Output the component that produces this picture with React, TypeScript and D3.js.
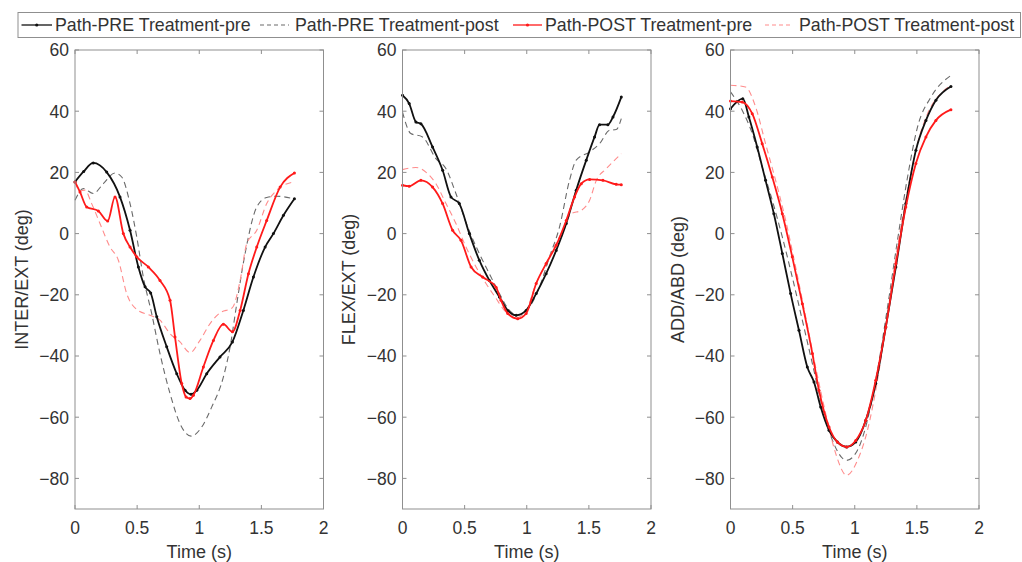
import React from "react";
import * as d3 from "d3";

// ---------- DATA ----------
const seriesNames = [
  "Path-PRE Treatment-pre",
  "Path-PRE Treatment-post",
  "Path-POST Treatment-pre",
  "Path-POST Treatment-post",
];
const panelLabels = ["INTER/EXT (deg)", "FLEX/EXT (deg)", "ADD/ABD (deg)"];
const xLabel = "Time (s)";
const xTicks = [0, 0.5, 1, 1.5, 2];
const yTicks = [-80, -60, -40, -20, 0, 20, 40, 60];

// Panel 1: INTER/EXT  [time s, deg]
const interPrePre: [number, number][] = [[0,16.9],[0.07,20.3],[0.147,23.1],[0.255,20.1],[0.362,12],[0.443,1.1],[0.51,-10.9],[0.564,-17.4],[0.609,-19.4],[0.658,-27.2],[0.738,-37],[0.819,-45.8],[0.886,-51.2],[0.934,-52.5],[0.98,-51.2],[1.06,-45.8],[1.167,-40.3],[1.267,-35.4],[1.355,-25.1],[1.436,-14.2],[1.53,-4.4],[1.597,0],[1.678,6],[1.766,11.4]];
const interPrePost: [number, number][] = [[0,10.9],[0.067,14.7],[0.147,13.1],[0.228,16.3],[0.322,19.8],[0.376,18.5],[0.443,9.8],[0.497,-1.1],[0.55,-14.2],[0.617,-26.1],[0.684,-39.2],[0.765,-52.3],[0.845,-62.1],[0.934,-66.2],[1.02,-63.2],[1.1,-56.7],[1.194,-46.9],[1.248,-37.1],[1.302,-22.9],[1.369,-6.5],[1.463,8.7],[1.543,11.8],[1.624,12.2],[1.758,11.4]];
const interPostPre: [number, number][] = [[0,16.9],[0.04,13.6],[0.094,8.7],[0.188,7.4],[0.263,4.1],[0.322,12],[0.389,0],[0.443,-4.4],[0.497,-7.6],[0.59,-10.9],[0.684,-15.3],[0.765,-21.8],[0.805,-33.8],[0.859,-49],[0.894,-53.4],[0.926,-53.9],[0.953,-52.8],[1.033,-43.6],[1.114,-34.9],[1.194,-29.6],[1.267,-32.1],[1.329,-25.1],[1.396,-13.1],[1.463,-4.4],[1.543,4.3],[1.651,15.2],[1.766,19.8]];
const interPostPost: [number, number][] = [[0,16.9],[0.04,14],[0.08,14.2],[0.134,9.8],[0.201,3.3],[0.282,-4.4],[0.349,-8.7],[0.416,-19.6],[0.497,-24.8],[0.604,-26.7],[0.684,-28.3],[0.765,-32.7],[0.845,-35.4],[0.926,-38.9],[1.006,-34.9],[1.087,-29.4],[1.167,-25.9],[1.267,-24.2],[1.329,-15.3],[1.382,-3.3],[1.463,1.1],[1.543,9.8],[1.624,14.2],[1.758,16.9]];

// Panel 2: FLEX/EXT
const flexPrePre: [number, number][] = [[0,45.2],[0.054,42.5],[0.108,36.5],[0.148,35.9],[0.242,28.3],[0.323,20.7],[0.39,12],[0.457,9.8],[0.538,0],[0.618,-8.7],[0.699,-15.3],[0.78,-20.7],[0.847,-25.1],[0.915,-26.7],[0.995,-25.1],[1.076,-19.6],[1.156,-13.1],[1.237,-5.5],[1.318,3.3],[1.398,14.2],[1.479,24],[1.546,31.6],[1.586,35.6],[1.653,35.6],[1.694,38.1],[1.761,44.6]];
const flexPrePost: [number, number][] = [[0,39.7],[0.067,32.7],[0.161,31.6],[0.269,24.5],[0.35,21.2],[0.43,13.1],[0.524,2.2],[0.618,-6.5],[0.699,-13.1],[0.78,-19.6],[0.86,-25.1],[0.927,-26.7],[1.022,-24],[1.102,-17.5],[1.183,-7.6],[1.264,2.2],[1.344,17.4],[1.398,24],[1.506,26.7],[1.586,29.4],[1.667,33.8],[1.72,34],[1.761,37.6]];
const flexPostPre: [number, number][] = [[0,15.8],[0.054,15.5],[0.148,17.4],[0.242,15.2],[0.323,9.8],[0.403,1.1],[0.471,-2.2],[0.552,-10.9],[0.645,-14.2],[0.753,-17.5],[0.793,-21.8],[0.847,-26.1],[0.927,-27.8],[0.995,-26.1],[1.076,-16.3],[1.156,-9.8],[1.237,-3.8],[1.318,4.3],[1.385,12],[1.439,16.3],[1.506,17.7],[1.613,17.4],[1.72,16.1],[1.761,16]];
const flexPostPost: [number, number][] = [[0,20.9],[0.108,21.6],[0.188,20.1],[0.269,16.3],[0.35,9.8],[0.43,3.3],[0.511,-4.4],[0.592,-10.9],[0.672,-16.3],[0.753,-21.2],[0.82,-25.1],[0.92,-27.5],[0.995,-25.1],[1.076,-16.3],[1.183,-7.6],[1.29,1.1],[1.358,6.5],[1.439,7.6],[1.506,10.9],[1.56,17.4],[1.64,21.2],[1.761,26.1]];

// Panel 3: ADD/ABD
const addPrePre: [number, number][] = [[0,40.8],[0.099,44.1],[0.148,38.1],[0.215,28.3],[0.282,17.4],[0.349,6.5],[0.417,-6.5],[0.484,-19.6],[0.551,-31.6],[0.618,-43.6],[0.672,-48.5],[0.726,-56.7],[0.793,-64.3],[0.86,-68.1],[0.935,-69.7],[1.008,-68.1],[1.089,-61],[1.169,-49],[1.25,-30.5],[1.331,-10.9],[1.411,9.8],[1.492,27.2],[1.573,37],[1.653,43.6],[1.774,48.1]];
const addPrePost: [number, number][] = [[0,46.3],[0.094,40.3],[0.175,32.7],[0.255,21.8],[0.336,10.9],[0.417,-1.1],[0.497,-14.2],[0.578,-28.3],[0.659,-42.5],[0.739,-56.7],[0.82,-67.5],[0.935,-74.1],[1.022,-70.8],[1.102,-61],[1.183,-44.7],[1.264,-24],[1.344,-2.2],[1.425,18.5],[1.505,34.8],[1.613,44.6],[1.774,51.7]];
const addPostPre: [number, number][] = [[0,43.3],[0.094,43],[0.175,39.2],[0.255,29.4],[0.336,18.5],[0.417,6.5],[0.497,-7.6],[0.578,-22.9],[0.659,-39.2],[0.712,-51.2],[0.793,-63.2],[0.86,-68.1],[0.935,-69.7],[1.008,-67.6],[1.089,-61],[1.169,-47.9],[1.25,-30.5],[1.331,-9.8],[1.411,8.7],[1.492,22.9],[1.573,31.6],[1.653,37],[1.774,40.5]];
const addPostPost: [number, number][] = [[0,48.5],[0.121,47.9],[0.202,41.4],[0.282,29.4],[0.363,17.4],[0.444,4.3],[0.524,-10.9],[0.605,-27.2],[0.685,-43.6],[0.766,-58.8],[0.847,-71.9],[0.935,-79],[1.022,-74.1],[1.102,-64.3],[1.183,-47.9],[1.264,-26.1],[1.344,-4.4],[1.425,14.2],[1.505,29.4],[1.586,39.2],[1.694,45.8],[1.774,48.5]];

const panelData = [
  [interPrePre, interPrePost, interPostPre, interPostPost],
  [flexPrePre, flexPrePost, flexPostPre, flexPostPost],
  [addPrePre, addPrePost, addPostPre, addPostPost],
];

// ---------- STYLE / LAYOUT ----------
const FONT = "'Liberation Sans', Arial, Helvetica, sans-serif";
const TEXT = "#333333";
const AXIS = "#8f8f8f";
const styles = [
  { color: "#111111", width: 1.8, dash: null as string | null, dots: true },
  { color: "#6a6a6a", width: 1.1, dash: "6,4", dots: false },
  { color: "#ff1a1a", width: 1.8, dash: null, dots: true },
  { color: "#ff8c8c", width: 1.1, dash: "6,4", dots: false },
];
const panelLefts = [75, 402.5, 730.5];
const panelW = 248.5;
const top = 50;
const bottom = 509;
const yLabelX = [22, 349, 678];

const yScale = d3.scaleLinear().domain([-90, 60]).range([bottom, top]);

function Panel({ idx }: { idx: number }) {
  const left = panelLefts[idx];
  const x = d3.scaleLinear().domain([0, 2]).range([left, left + panelW]);
  const line = d3
    .line<[number, number]>()
    .x((d) => x(d[0]))
    .y((d) => yScale(d[1]))
    .curve(d3.curveMonotoneX);
  const data = panelData[idx];
  const order = [1, 3, 0, 2];
  return (
    <g>
      <rect x={left} y={top} width={panelW} height={bottom - top} fill="#fff" stroke="none" />
      {order.map((s) => (
        <g key={s}>
          <path
            d={line(data[s]) || ""}
            fill="none"
            stroke={styles[s].color}
            strokeWidth={styles[s].width}
            strokeDasharray={styles[s].dash || undefined}
            strokeLinejoin="round"
          />
          {styles[s].dots &&
            data[s].map((d, i) => (
              <circle key={i} cx={x(d[0])} cy={yScale(d[1])} r={1.5} fill={styles[s].color} />
            ))}
        </g>
      ))}
      <rect x={left} y={top} width={panelW} height={bottom - top} fill="none" stroke={AXIS} strokeWidth={1} />
      {xTicks.map((t) => (
        <g key={t}>
          <line x1={x(t)} x2={x(t)} y1={bottom} y2={bottom - 4} stroke={AXIS} />
          <line x1={x(t)} x2={x(t)} y1={top} y2={top + 4} stroke={AXIS} />
          <text x={x(t)} y={533.5} textAnchor="middle" fontSize={17.5} fill={TEXT} fontFamily={FONT}>
            {String(t)}
          </text>
        </g>
      ))}
      {yTicks.map((v) => (
        <g key={v}>
          <line x1={left} x2={left + 4} y1={yScale(v)} y2={yScale(v)} stroke={AXIS} />
          <line x1={left + panelW} x2={left + panelW - 4} y1={yScale(v)} y2={yScale(v)} stroke={AXIS} />
          <text x={left - 6} y={yScale(v) + 6.3} textAnchor="end" fontSize={17.5} fill={TEXT} fontFamily={FONT}>
            {v < 0 ? "\u2212" + Math.abs(v) : String(v)}
          </text>
        </g>
      ))}
      <text x={left + panelW / 2} y={558} textAnchor="middle" fontSize={18} fill={TEXT} fontFamily={FONT}>
        {xLabel}
      </text>
      <text
        transform={`translate(${yLabelX[idx]},${(top + bottom) / 2}) rotate(-90)`}
        textAnchor="middle"
        dy={6}
        fontSize={18}
        fill={TEXT}
        fontFamily={FONT}
      >
        {panelLabels[idx]}
      </text>
    </g>
  );
}

const legendLine = [
  [21.5, 52],
  [260, 289],
  [513, 542],
  [765, 792],
];
const legendText = [55, 295, 545, 799];

export default function App() {
  return (
    <svg
      width={1022}
      height={562}
      style={{ position: "absolute", left: 0, top: 0, background: "#fff" }}
    >
      <rect x={0} y={0} width={1022} height={562} fill="#fff" />
      {[0, 1, 2].map((i) => (
        <Panel key={i} idx={i} />
      ))}
      <rect x={18} y={12.5} width={1002.5} height={25} fill="#fff" stroke={AXIS} strokeWidth={1} />
      {seriesNames.map((name, i) => (
        <g key={name}>
          <line
            x1={legendLine[i][0]}
            x2={legendLine[i][1]}
            y1={25}
            y2={25}
            stroke={styles[i].color}
            strokeWidth={styles[i].dash ? 1.1 : 1.3}
            strokeDasharray={styles[i].dash ? "4,3" : undefined}
          />
          {styles[i].dots && (
            <circle cx={(legendLine[i][0] + legendLine[i][1]) / 2} cy={25} r={1.6} fill={styles[i].color} />
          )}
          <text x={legendText[i]} y={31.2} fontSize={17.8} fill={TEXT} fontFamily={FONT}>
            {name}
          </text>
        </g>
      ))}
    </svg>
  );
}
